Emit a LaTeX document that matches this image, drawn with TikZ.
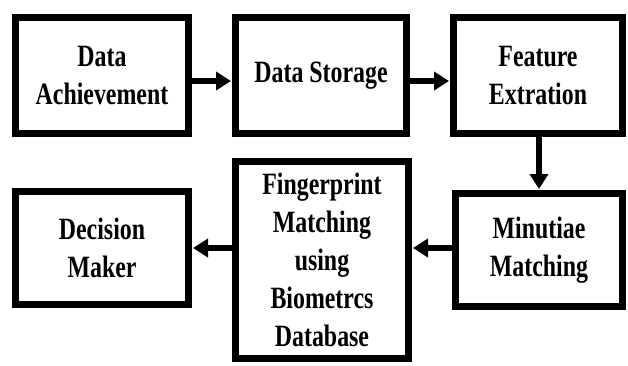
\documentclass[tikz,border=0pt]{standalone}
\usepackage{fontspec}
\setmainfont{Liberation Serif}[FakeStretch=0.77]
\usetikzlibrary{arrows.meta}
\begin{document}
\begin{tikzpicture}[x=1pt,y=-1pt,
  box/.style={draw=black, line width=7pt, fill=white, align=center, inner sep=0pt,
    font=\fontsize{31}{38}\selectfont\bfseries},
  arr/.style={line width=6pt, -{Triangle[length=15pt,width=18pt]}, shorten >=1pt}]
\useasboundingbox (0,0) rectangle (628,365);
\node[box, minimum width=173pt, minimum height=116pt] (b1) at (102,75.5) {Data\\Achievement};
\node[box, minimum width=171pt, minimum height=116pt] (b2) at (321,75.5) {Data Storage};
\node[box, minimum width=169pt, minimum height=116pt] (b3) at (538,75.5) {Feature\\Extration};
\node[box, minimum width=167pt, minimum height=113pt] (b4) at (539,250) {Minutiae\\Matching};
\node[box, minimum width=173pt, minimum height=197pt] (b5) at (322,260) {Fingerprint\\Matching\\using\\Biometrcs\\Database};
\node[box, minimum width=173pt, minimum height=113pt] (b6) at (102,248) {Decision\\Maker};
\coordinate (r1) at (0,81);
\coordinate (r2) at (0,248);
\draw[arr] (b1.east |- r1) -- (b2.west |- r1);
\draw[arr] (b2.east |- r1) -- (b3.west |- r1);
\draw[arr] (b3.south -| b4.north) -- (b4.north);
\draw[arr] (b4.west |- r2) -- (b5.east |- r2);
\draw[arr] (b5.west |- r2) -- (b6.east |- r2);
\end{tikzpicture}
\end{document}
